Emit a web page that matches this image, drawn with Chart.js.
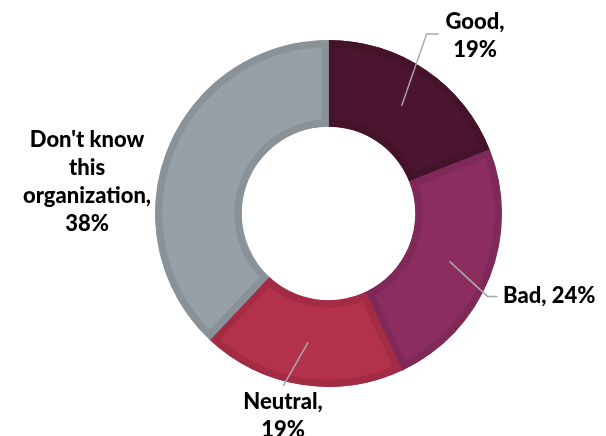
<!DOCTYPE html>
<html>
<head>
<meta charset="utf-8">
<script src="https://cdn.jsdelivr.net/npm/chart.js@4"></script>
<style>
  html, body { margin: 0; padding: 0; background: #fff; }
  #wrap { width: 606px; height: 436px; position: relative; }
</style>
</head>
<body>
<div id="wrap"><canvas id="pieChart" width="606" height="436"></canvas></div>
<script>
const categorias = ["Good", "Bad", "Neutral", "Don't know this organization"];
const valores = [19, 24, 19, 38];
const rotulos = [["Good,", "19%"], ["Bad, 24%"], ["Neutral,", "19%"], ["Don't know", "this", "organization,", "38%"]];

const cores = ["#4b1531", "#8c2d60", "#b2324b", "#979fa7"];
const bordas = ["#441229", "#7f2958", "#a32b44", "#8a9299"];

// posicoes dos rotulos (linha guia relativa ao centro do arco, texto absoluto, y = linha de base)
const layoutRotulos = [
  { guia: [[25, -72], [37, -72]], x: 475, y: 29, align: 'center' },
  { guia: [[38, 35], [48, 35]], x: 503, y: 303, align: 'left' },
  { guia: [[-25, 44]], x: 283, y: 409, align: 'center' },
  { guia: null, x: 87, y: 147, align: 'center' }
];

const pluginRotulos = {
  id: 'rotulos',
  afterDatasetsDraw(chart) {
    const ctx = chart.ctx;
    const arcs = chart.getDatasetMeta(0).data;
    ctx.save();
    arcs.forEach((arc, i) => {
      const lay = layoutRotulos[i];
      if (lay.guia) {
        const p = arc.tooltipPosition();
        ctx.beginPath();
        ctx.moveTo(p.x, p.y);
        lay.guia.forEach(g => ctx.lineTo(p.x + g[0], p.y + g[1]));
        ctx.strokeStyle = '#a8a8a8';
        ctx.lineWidth = 1.5;
        ctx.stroke();
      }
      ctx.fillStyle = '#000';
      ctx.font = '900 22px Lato';
      ctx.textAlign = lay.align;
      ctx.textBaseline = 'alphabetic';
      rotulos[i].forEach((t, k) => ctx.fillText(t, lay.x, lay.y + k * 28));
    });
    ctx.restore();
  }
};

const ctx = document.getElementById('pieChart').getContext('2d');
new Chart(ctx, {
  type: 'doughnut',
  data: {
    labels: categorias,
    datasets: [{
      data: valores,
      backgroundColor: cores,
      borderColor: bordas,
      borderWidth: 7,
      borderAlign: 'inner',
      borderJoinStyle: 'miter'
    }]
  },
  options: {
    responsive: false,
    animation: false,
    cutout: '50%',
    layout: { padding: { left: 155, right: 104, top: 40, bottom: 49 } },
    plugins: { legend: { display: false }, tooltip: { enabled: false } }
  },
  plugins: [pluginRotulos]
});
</script>
</body>
</html>
